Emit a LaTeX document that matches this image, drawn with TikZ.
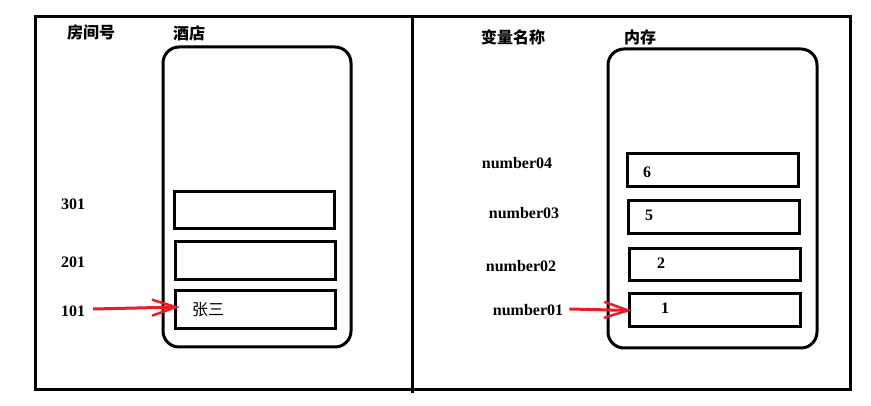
\documentclass[tikz,border=0pt]{standalone}
\usepackage{fontspec}
\setmainfont{Liberation Serif}
\newfontfamily\cjk{Noto Sans CJK SC}
\usetikzlibrary{arrows.meta}
\definecolor{penred}{RGB}{237,28,36}
\begin{document}
\begin{tikzpicture}[x=1pt,y=-1pt,
  frame/.style={line width=3pt},
  store/.style={draw,line width=3pt,rounded corners=16pt,anchor=north west,inner sep=0pt,outer sep=0pt},
  cell/.style={draw,line width=3pt,anchor=north west,inner sep=0pt,outer sep=0pt},
  cn/.style={font=\cjk\bfseries\fontsize{16}{16}\selectfont,inner sep=0pt},
  lab/.style={font=\bfseries\fontsize{16}{16}\selectfont,inner sep=0pt},
  val/.style={font=\bfseries\fontsize{16}{16}\selectfont,inner sep=0pt},
  ptr/.style={draw=penred,line width=3pt,-{Straight Barb[length=24pt,width=16pt,line width=2.5pt]}}
]
\useasboundingbox (0,0) rectangle (871,406);
% outer frame
\draw[frame] (35,17) rectangle (850,389);
\draw[frame] (412,17) -- (412,393);
% left half
\node[cn] (tRoom) at (91,33) {房间号};
\node[cn] (tHotel) at (189,33) {酒店};
\node[store,minimum width=188pt,minimum height=300pt] (hotel) at (163,47) {};
\node[cell,minimum width=160pt,minimum height=37pt] (h3) at (174,192) {};
\node[cell,minimum width=160pt,minimum height=38pt] (h2) at (175,242) {};
\node[cell,minimum width=160pt,minimum height=38pt] (h1) at (175,291) {};
\node[lab] (r301) at (73,204) {301};
\node[lab] (r201) at (73,262) {201};
\node[lab] (r101) at (73,311) {101};
\node[cn,font=\cjk\fontsize{16}{16}\selectfont] (guest) at (208,310) {张三};
\draw[ptr] ([xshift=8pt,yshift=2pt]r101.east) -- ([xshift=5pt,yshift=3pt]h1.west);
% right half
\node[cn] (tVar) at (513,37) {变量名称};
\node[cn] (tMem) at (640,37) {内存};
\node[store,minimum width=209pt,minimum height=299pt] (mem) at (608,49) {};
\node[cell,minimum width=171pt,minimum height=33pt] (m4) at (627,154) {};
\node[cell,minimum width=171pt,minimum height=33pt] (m3) at (628,201) {};
\node[cell,minimum width=171pt,minimum height=32pt] (m2) at (629,249) {};
\node[cell,minimum width=171pt,minimum height=33pt] (m1) at (629,294) {};
\node[lab] (n4) at (517,163) {number04};
\node[lab] (n3) at (524,213) {number03};
\node[lab] (n2) at (521,266) {number02};
\node[lab] (n1) at (528,310) {number01};
\node[val] (v4) at (647,172) {6};
\node[val] (v3) at (649,215) {5};
\node[val] (v2) at (661,263) {2};
\node[val] (v1) at (665,308) {1};
\draw[ptr] ([xshift=6pt,yshift=1pt]n1.east) -- ([xshift=3pt]m1.west);
\end{tikzpicture}
\end{document}
